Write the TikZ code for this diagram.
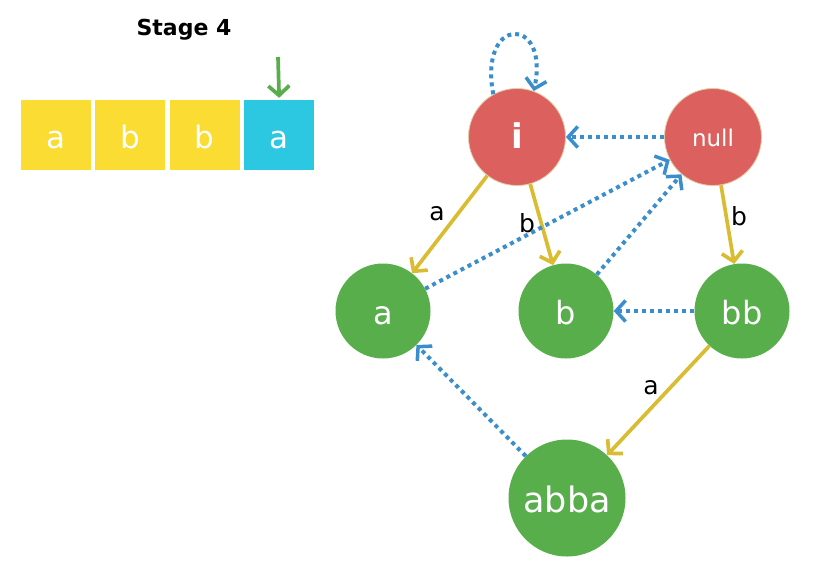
\documentclass[tikz,border=0pt]{standalone}
\usepackage{fontspec}
\setmainfont{DejaVu Sans}
\usetikzlibrary{arrows.meta, positioning}

\definecolor{cellyellow}{HTML}{FADC33}
\definecolor{cellcyan}{HTML}{2CC7E0}
\definecolor{stategreen}{HTML}{57AE4B}
\definecolor{rootred}{HTML}{DC615E}
\definecolor{rootrim}{HTML}{E3CBA6}
\definecolor{edgeyellow}{HTML}{D9BC32}
\definecolor{failblue}{HTML}{3A8ECC}

\tikzset{
    cell/.style={minimum size=70pt, inner sep=0pt, text=white,
        font=\fontsize{31}{31}\selectfont, text height=26pt, text depth=0pt},
    state/.style={circle, fill=stategreen, minimum size=95pt, inner sep=0pt, text=white,
        font=\fontsize{32}{32}\selectfont, text height=26pt, text depth=0pt},
    rootstate/.style={state, fill=rootred, draw=rootrim, line width=0.8pt, minimum size=97pt},
    gotoedge/.style={draw=edgeyellow, line width=3.7pt, -{Straight Barb[length=9.5pt,width=21pt]}},
    failedge/.style={draw=failblue, line width=4pt, dash pattern=on 4pt off 4pt,
        -{Straight Barb[length=9.5pt,width=21pt,line width=3.5pt]}},
    lbl/.style={font=\fontsize{25}{25}\selectfont, anchor=base}
}

\begin{document}
\begin{tikzpicture}[x=1pt, y=-1pt]
        \useasboundingbox (0,0) rectangle (838,584);

        % input string
        \node[font=\bfseries\fontsize{22}{22}\selectfont] (title) at (184,30) {Stage 4};
        \node[cell, fill=cellyellow] (s1) at (56,135) {a};
        \node[cell, fill=cellyellow, right=4pt of s1] (s2) {b};
        \node[cell, fill=cellyellow, right=4pt of s2] (s3) {b};
        \node[cell, fill=cellcyan, right=4pt of s3] (s4) {a};

        \coordinate (ptr) at (278,57);
        \draw[draw=stategreen, line width=3.7pt, -{Straight Barb[length=9.5pt,width=21pt]}, shorten >=2pt] (ptr) -- (s4.north);

        % states
        \node[rootstate, font=\bfseries\fontsize{34}{34}\selectfont, text height=22pt] (i) at (517,137) {i};
        \node[rootstate, font=\fontsize{23}{23}\selectfont, text height=18pt] (null) at (713,137) {null};
        \node[state] (a) at (383,311) {a};
        \node[state] (b) at (566,311) {b};
        \node[state] (bb) at (742,311) {bb};
        \node[state, minimum size=117pt, font=\fontsize{35}{35}\selectfont, text height=28pt] (abba) at (567,498) {abba};

        % goto edges
        \draw[gotoedge] (i) -- (a);
        \draw[gotoedge] (i) -- (b);
        \draw[gotoedge] (null) -- (bb);
        \draw[gotoedge] (bb) -- (abba);

        \node[lbl] (la) at (437,220) {a};
        \node[lbl] (lb) at (527,232) {b};
        \node[lbl] (lbb) at (739,225) {b};
        \node[lbl] (labba) at (651,394) {a};

        % failure links
        \draw[failedge] (i.119) .. controls (478,15) and (550,15) .. (i.70);
        \draw[failedge] (null) -- (i);
        \draw[failedge] (a) -- (null);
        \draw[failedge] (b) -- (null);
        \draw[failedge] (bb) -- (b);
        \draw[failedge] (abba) -- (a);
    \end{tikzpicture}
\end{document}
